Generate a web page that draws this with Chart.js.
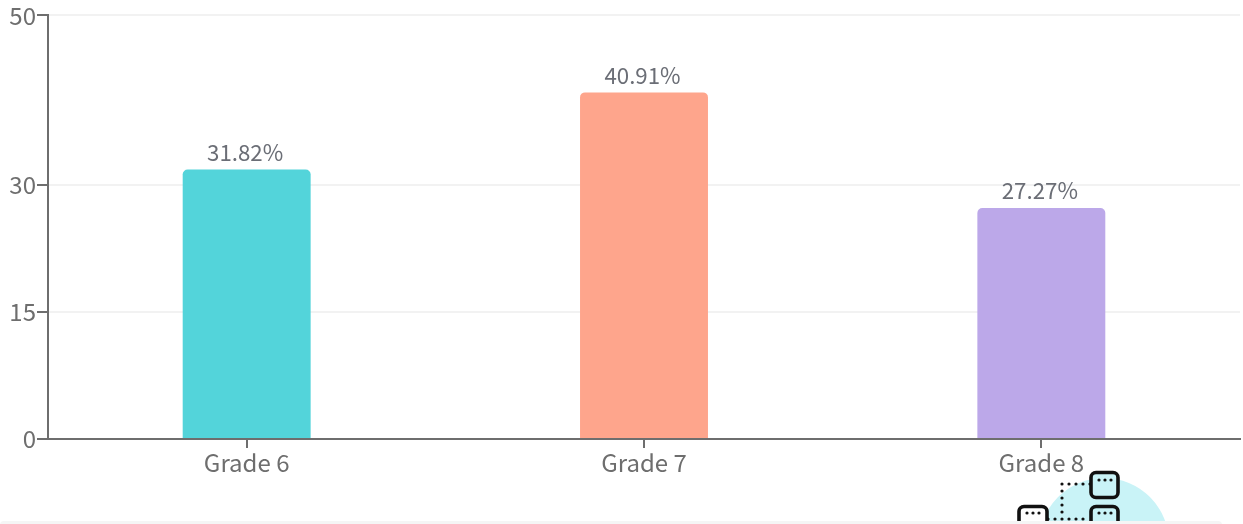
<!DOCTYPE html>
<html>
<head>
<meta charset="utf-8">
<script src="https://cdn.jsdelivr.net/npm/chart.js@4"></script>
<style>
  html, body { margin: 0; padding: 0; background: #fff; overflow: hidden; }
  #box { position: relative; width: 1243px; height: 524px; }
  #grafico { position: absolute; left: 0; top: 0; }
  #deco { position: absolute; left: 0; top: 0; pointer-events: none; }
</style>
</head>
<body>
<div id="box">
  <canvas id="grafico" width="1243" height="524"></canvas>
  <!-- icon and grey strip cut off at the bottom of the screenshot -->
  <svg id="deco" width="1243" height="524">
    <circle cx="1104" cy="543" r="65" fill="#c9f3f7"/>
    <g fill="none" stroke="#111" stroke-width="3.2" stroke-dasharray="0 7" stroke-linecap="round">
      <path d="M1090 484H1062V519"/>
      <path d="M1048 519H1090"/>
    </g>
    <g fill="#c9f3f7" stroke="#111" stroke-width="3.6">
      <rect x="1091" y="472.5" width="27" height="25" rx="5"/>
      <rect x="1091" y="506.5" width="27" height="25" rx="5"/>
      <rect x="1019" y="506.5" width="28" height="25" rx="5" fill="#fff"/>
    </g>
    <g fill="#111">
      <circle cx="1099" cy="480" r="1.6"/><circle cx="1105" cy="480" r="1.6"/><circle cx="1111" cy="480" r="1.6"/>
      <circle cx="1099" cy="513" r="1.6"/><circle cx="1105" cy="513" r="1.6"/><circle cx="1111" cy="513" r="1.6"/>
      <circle cx="1027" cy="513" r="1.6"/><circle cx="1033" cy="513" r="1.6"/><circle cx="1039" cy="513" r="1.6"/>
    </g>
    <rect x="0" y="521" width="1222" height="8" rx="4" fill="#f5f5f5"/>
  </svg>
</div>
<script>
// Dados do gráfico
const categorias = ["Grade 6", "Grade 7", "Grade 8"];
const valores = [31.82, 40.91, 27.27];
const cores = ["#53d4da", "#fea58c", "#bca8e9"];
const marcasY = [0, 15, 30, 50];

const fonte = '"Noto Sans CJK SC", "Noto Sans", sans-serif';

// Escreve a porcentagem em cima de cada barra
const rotulos = {
    id: 'rotulos',
    afterDatasetsDraw(chart) {
        const ctx = chart.ctx;
        ctx.save();
        ctx.font = '22.3px ' + fonte;
        ctx.fillStyle = '#6b6e76';
        ctx.textAlign = 'center';
        ctx.textBaseline = 'bottom';
        chart.getDatasetMeta(0).data.forEach(function (barra, i) {
            ctx.fillText(valores[i].toFixed(2) + '%', barra.x - 1.5, barra.y - 6);
        });
        ctx.restore();
    }
};

const grafico = new Chart(document.getElementById('grafico'), {
    type: 'bar',
    data: {
        labels: categorias,
        datasets: [{
            data: valores,
            backgroundColor: cores,
            borderRadius: { topLeft: 5, topRight: 5 },
            borderSkipped: 'bottom',
            categoryPercentage: 1,
            barPercentage: 0.322
        }]
    },
    options: {
        responsive: false,
        animation: false,
        layout: { padding: { top: 13, right: 3, bottom: 0, left: 0 } },
        plugins: { legend: { display: false }, tooltip: { enabled: false } },
        scales: {
            x: {
                afterFit(eixo) { eixo.height = 85; },
                grid: { display: true, offset: false, drawOnChartArea: false, drawTicks: true, tickLength: 9, tickColor: '#6e6e6e', lineWidth: 2 },
                border: { color: '#6e6e6e', width: 2 },
                ticks: { color: '#6e6e6e', font: { family: fonte, size: 24 }, padding: 0, maxRotation: 0 }
            },
            y: {
                min: 0,
                max: 50,
                afterBuildTicks(eixo) {
                    eixo.ticks = marcasY.map(function (v) { return { value: v }; });
                },
                afterFit(eixo) { eixo.width = 48; },
                grid: { color: '#f2f2f2', lineWidth: 2, tickColor: '#6e6e6e', tickLength: 11, drawTicks: true },
                border: { color: '#6e6e6e', width: 2 },
                ticks: { color: '#6e6e6e', font: { family: fonte, size: 24 }, padding: 1, autoSkip: false }
            }
        }
    },
    plugins: [rotulos]
});
</script>
</body>
</html>
